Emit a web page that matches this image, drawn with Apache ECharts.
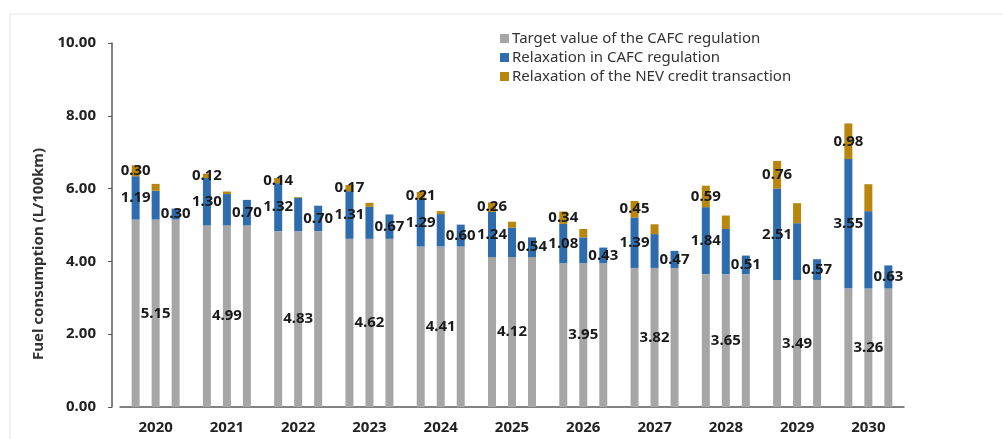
<!DOCTYPE html>
<html>
<head>
<meta charset="utf-8">
<script src="https://cdn.jsdelivr.net/npm/echarts@6/dist/echarts.min.js"></script>
<style>
  html, body { margin: 0; padding: 0; background: #fff; }
  #chart { width: 1003px; height: 439px; }
</style>
</head>
<body>
<div id="chart"></div>
<script>
const years = ['2020', '2021', '2022', '2023', '2024', '2025', '2026', '2027', '2028', '2029', '2030']
const yTicks = [0, 2, 4, 6, 8, 10]

// target value (same for all three bars of a year)
const targetValue = [5.15, 4.99, 4.83, 4.62, 4.41, 4.12, 3.95, 3.82, 3.65, 3.49, 3.26]
// bar 1
const relaxA = [1.19, 1.30, 1.32, 1.31, 1.29, 1.24, 1.08, 1.39, 1.84, 2.51, 3.55]
const nevA = [0.30, 0.12, 0.14, 0.17, 0.21, 0.26, 0.34, 0.45, 0.59, 0.76, 0.98]
// bar 2 (no labels in the source)
const relaxB = [0.79, 0.86, 0.92, 0.88, 0.89, 0.81, 0.71, 0.93, 1.24, 1.56, 2.12]
const nevB = [0.19, 0.07, 0.02, 0.11, 0.08, 0.16, 0.23, 0.27, 0.37, 0.55, 0.74]
// bar 3
const relaxC = [0.30, 0.70, 0.70, 0.67, 0.60, 0.54, 0.43, 0.47, 0.51, 0.57, 0.63]
const nevC = [0, 0, 0, 0, 0, 0, 0, 0, 0, 0, 0]

const NAME_T = 'Target value of the CAFC regulation'
const NAME_R = 'Relaxation in CAFC regulation'
const NAME_N = 'Relaxation of the NEV credit transaction'
const C_GRAY = '#a6a6a6'
const C_BLUE = '#2f6cad'
const C_GOLD = '#b8860b'
const FONT = '"Noto Sans", "Open Sans", sans-serif'

const labelOn = {
  show: true,
  position: 'inside',
  color: '#1a1a1a',
  fontSize: 15,
  fontWeight: 'bold',
  fontFamily: FONT,
  formatter: p => p.value.toFixed(2),
}

function bar(name, stack, data, color, showLabel) {
  return {
    name,
    type: 'bar',
    stack,
    data,
    barWidth: 8,
    barGap: '150%',
    itemStyle: { color },
    label: showLabel ? labelOn : { show: false },
    emphasis: { disabled: true },
  }
}

const chart = echarts.init(document.getElementById('chart'))
chart.setOption({
  animation: false,
  backgroundColor: '#fff',
  textStyle: { fontFamily: FONT },
  graphic: [{
    type: 'rect',
    shape: { x: 10, y: 14, width: 1000, height: 440 },
    style: { fill: 'none', stroke: '#e4e4e4', lineWidth: 1 },
    silent: true,
  }],
  legend: {
    data: [NAME_T, NAME_R, NAME_N],
    orient: 'vertical',
    left: 495,
    top: 26,
    icon: 'rect',
    itemWidth: 9,
    itemHeight: 9,
    itemGap: 4,
    textStyle: { color: '#333', fontSize: 15, fontFamily: FONT, padding: [0, 0, 0, -2] },
  },
  grid: { left: 120, right: 99, top: 43, bottom: 32 },
  xAxis: {
    type: 'category',
    data: years,
    axisLine: { lineStyle: { color: '#595959', width: 1.5 } },
    axisTick: { show: false },
    axisLabel: { color: '#222', fontSize: 15, fontWeight: 'bold', margin: 13, fontFamily: FONT },
  },
  yAxis: {
    type: 'value',
    min: yTicks[0],
    max: yTicks[yTicks.length - 1],
    interval: 2,
    offset: 8,
    name: 'Fuel consumption (L/100km)',
    nameLocation: 'middle',
    nameGap: 62,
    nameTextStyle: { color: '#333', fontSize: 15, fontWeight: 'bold', fontFamily: FONT, padding: [0, 58, 0, 0] },
    axisLine: { show: true, lineStyle: { color: '#595959', width: 1.5 } },
    axisTick: { show: true, length: 4, inside: false, lineStyle: { color: '#595959' } },
    splitLine: { show: false },
    axisLabel: { color: '#222', fontSize: 15, fontWeight: 'bold', margin: 16, fontFamily: FONT, formatter: v => v.toFixed(2) },
  },
  series: [
    bar(NAME_T, 'A', targetValue, C_GRAY, false),
    bar(NAME_R, 'A', relaxA, C_BLUE, true),
    bar(NAME_N, 'A', nevA, C_GOLD, true),
    bar(NAME_T, 'B', targetValue, C_GRAY, true),
    bar(NAME_R, 'B', relaxB, C_BLUE, false),
    bar(NAME_N, 'B', nevB, C_GOLD, false),
    bar(NAME_T, 'C', targetValue, C_GRAY, false),
    bar(NAME_R, 'C', relaxC, C_BLUE, true),
    bar(NAME_N, 'C', nevC, C_GOLD, false),
  ],
})
</script>
</body>
</html>
